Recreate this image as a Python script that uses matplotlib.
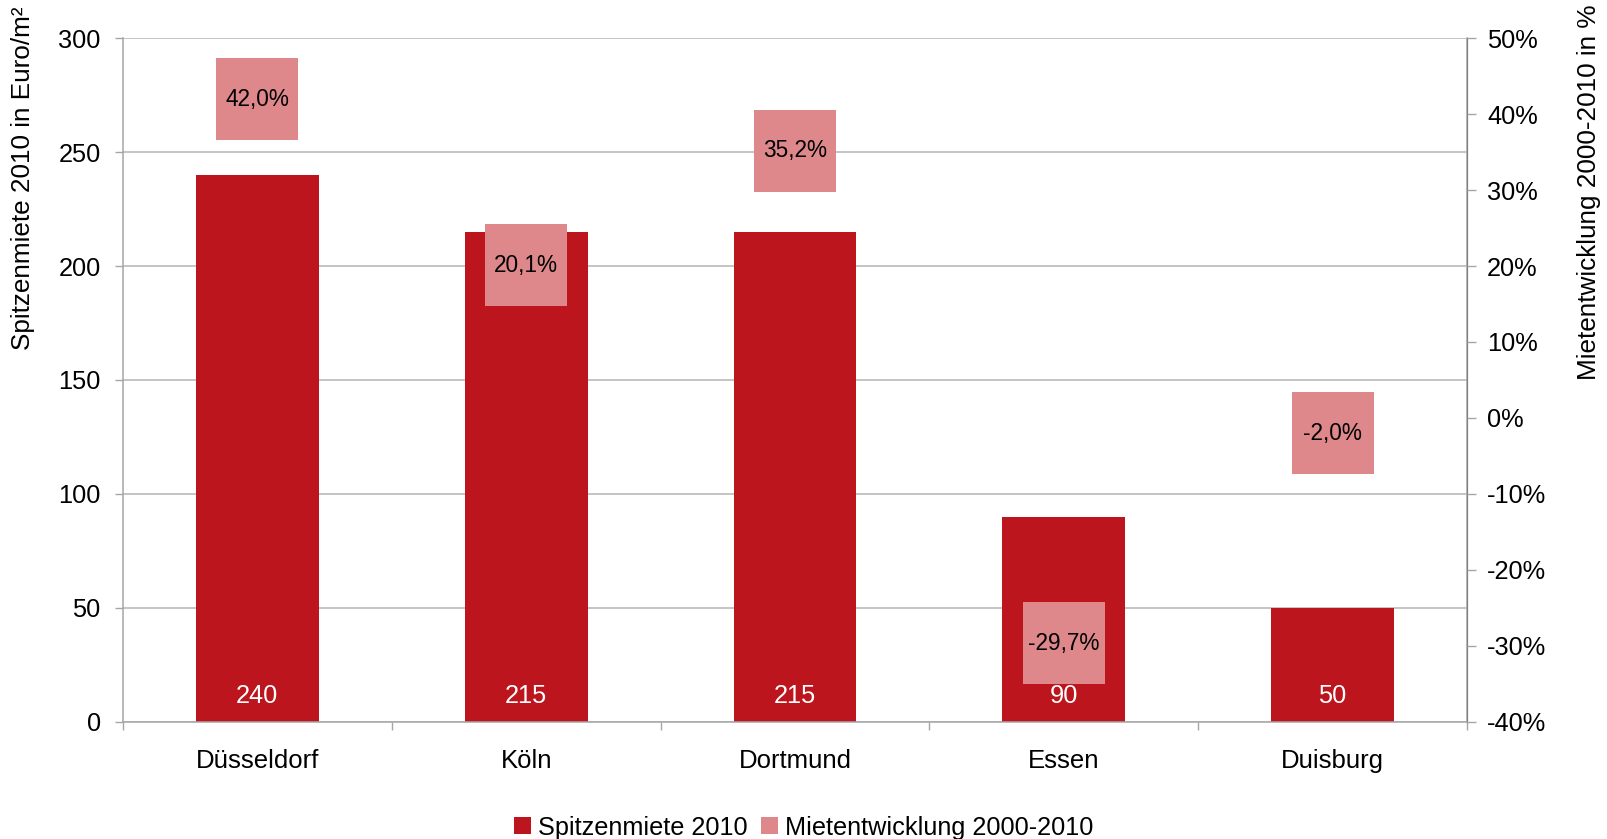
import matplotlib
matplotlib.use("Agg")
import matplotlib.pyplot as plt
from matplotlib import font_manager
from matplotlib.patches import Patch
from matplotlib.ticker import FixedLocator, NullFormatter

cities = ["Düsseldorf", "Köln", "Dortmund", "Essen", "Duisburg"]
peak_rent = [240, 215, 215, 90, 50]
rent_change = [42.0, 20.1, 35.2, -29.7, -2.0]
left_ticks = [0, 50, 100, 150, 200, 250, 300]
right_ticks = [-40, -30, -20, -10, 0, 10, 20, 30, 40, 50]

BAR = "#BC151D"
PINK = "#DF888C"
GRID = "#B4B4B4"
SPINE = "#A6A6A6"
FS = 18.3

names = {f.name for f in font_manager.fontManager.ttflist}
base = "Liberation Sans" if "Liberation Sans" in names else "DejaVu Sans"
plt.rcParams["font.family"] = [base, "DejaVu Sans"]

fig = plt.figure(figsize=(16.07, 8.39), dpi=100)
ax = fig.add_axes([0.0765, 0.140, 0.8364, 0.8143])
ax2 = ax.twinx()

x = list(range(len(cities)))
ax.bar(x, peak_rent, width=0.457, color=BAR, zorder=2)
ax.set_xlim(-0.5, len(cities) - 0.5)
ax.set_ylim(0, 300)
ax.set_yticks(left_ticks)
ax.set_yticklabels([str(t) for t in left_ticks])
ax.yaxis.grid(True, color=GRID, linewidth=1.1, zorder=0)
ax.set_axisbelow(True)

# category separators as major ticks, names as minor labels
ax.xaxis.set_major_locator(FixedLocator([i - 0.5 for i in range(len(cities) + 1)]))
ax.xaxis.set_major_formatter(NullFormatter())
ax.xaxis.set_minor_locator(FixedLocator(x))
ax.set_xticklabels(cities, minor=True)
ax.tick_params(axis="x", which="major", length=5.5, width=1, color=SPINE, direction="out")
ax.tick_params(axis="x", which="minor", length=0, pad=19.5, labelsize=18.5)
ax.tick_params(axis="y", length=6, width=1, color=SPINE, pad=10, labelsize=FS)

ax.spines["top"].set_visible(False)
ax2.spines["top"].set_visible(False)
for sp in (ax.spines["left"], ax.spines["bottom"], ax2.spines["right"]):
    sp.set_color(SPINE)
    sp.set_linewidth(1.1)
ax2.spines["left"].set_visible(False)
ax2.spines["bottom"].set_visible(False)

for xi, v in zip(x, peak_rent):
    ax.annotate(str(v), xy=(xi, 0), xytext=(0, 18.5), textcoords="offset points",
                ha="center", va="center", color="white", fontsize=FS, zorder=3)

ax2.set_ylim(-40, 50)
ax2.set_yticks(right_ticks)
ax2.set_yticklabels([f"{t}%" for t in right_ticks])
ax2.tick_params(axis="y", length=6.5, width=1, color=SPINE, pad=8, labelsize=FS)
ax2.plot(x, rent_change, linestyle="none", marker="s", markersize=59.4,
         markerfacecolor=PINK, markeredgewidth=0, zorder=3)
for xi, v in zip(x, rent_change):
    ax2.text(xi, v, f"{v:.1f}%".replace(".", ","), ha="center", va="center",
             fontsize=16.3, color="black", zorder=4)

fig.text(0.0143, 0.787, "Spitzenmiete 2010 in Euro/m²", rotation=90,
         ha="center", va="center", fontsize=18.8)
fig.text(0.989, 0.771, "Mietentwicklung 2000-2010 in %", rotation=90,
         ha="center", va="center", fontsize=18.8)

handles = [Patch(facecolor=BAR, edgecolor="none"), Patch(facecolor=PINK, edgecolor="none")]
fig.legend(handles, ["Spitzenmiete 2010", "Mietentwicklung 2000-2010"],
           loc="center", bbox_to_anchor=(0.5, 0.0135), ncol=2, frameon=False,
           handlelength=0.67, handleheight=0.67, handletextpad=0.26, columnspacing=0.55,
           borderpad=0, prop={"size": 18.2})

fig.savefig("out.png", dpi=100)
